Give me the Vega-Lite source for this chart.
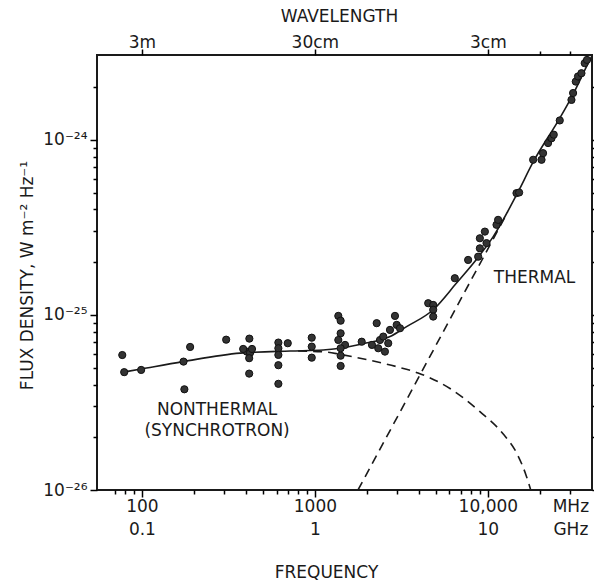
{
  "$schema": "https://vega.github.io/schema/vega-lite/v6.json",
  "width": 495,
  "height": 435,
  "autosize": {"type": "none"},
  "padding": {"left": 97, "top": 55, "right": 2, "bottom": 91},
  "background": "white",
  "config": {
    "view": {"stroke": "#1a1a1a", "strokeWidth": 2},
    "font": "DejaVu Sans",
    "axis": {
      "grid": false,
      "domain": false,
      "labelFont": "DejaVu Sans",
      "titleFont": "DejaVu Sans",
      "labelColor": "#1a1a1a",
      "titleColor": "#1a1a1a",
      "labelFontSize": 17,
      "titleFontSize": 17,
      "titleFontWeight": "normal",
      "labelFlush": false,
      "labelOverlap": false,
      "labelLineHeight": 23
    }
  },
  "datasets": {
    "total": [
      {"freq": 79, "flux": 4.72e-26},
      {"freq": 99, "flux": 4.91e-26},
      {"freq": 173, "flux": 5.41e-26},
      {"freq": 370, "flux": 6.05e-26},
      {"freq": 720, "flux": 6.22e-26},
      {"freq": 1115, "flux": 6.3e-26},
      {"freq": 1400, "flux": 6.45e-26},
      {"freq": 1900, "flux": 6.85e-26},
      {"freq": 2700, "flux": 7.5e-26},
      {"freq": 3390, "flux": 8.57e-26},
      {"freq": 4830, "flux": 1.07e-25},
      {"freq": 6590, "flux": 1.52e-25},
      {"freq": 9000, "flux": 2.2e-25},
      {"freq": 10740, "flux": 2.8e-25},
      {"freq": 14890, "flux": 5.0e-25},
      {"freq": 18190, "flux": 7.4e-25},
      {"freq": 26060, "flux": 1.33e-24},
      {"freq": 30540, "flux": 1.76e-24},
      {"freq": 38800, "flux": 2.85e-24},
      {"freq": 40000, "flux": 3.02e-24}
    ],
    "thermal": [
      {"freq": 1775, "flux": 1.0e-26},
      {"freq": 13000, "flux": 3.85e-25}
    ],
    "nonthermal": [
      {"freq": 800, "flux": 6.22e-26},
      {"freq": 1190, "flux": 6.12e-26},
      {"freq": 1400, "flux": 5.95e-26},
      {"freq": 2000, "flux": 5.55e-26},
      {"freq": 3000, "flux": 5.05e-26},
      {"freq": 3950, "flux": 4.66e-26},
      {"freq": 6040, "flux": 3.8e-26},
      {"freq": 9000, "flux": 2.8e-26},
      {"freq": 12200, "flux": 2.1e-26},
      {"freq": 14700, "flux": 1.62e-26},
      {"freq": 16700, "flux": 1.2e-26},
      {"freq": 17700, "flux": 1.0e-26}
    ],
    "points": [
      {"freq": 77, "flux": 5.9e-26},
      {"freq": 79, "flux": 4.71e-26},
      {"freq": 99, "flux": 4.85e-26},
      {"freq": 174, "flux": 5.41e-26},
      {"freq": 190, "flux": 6.56e-26},
      {"freq": 176, "flux": 3.76e-26},
      {"freq": 307, "flux": 7.22e-26},
      {"freq": 418, "flux": 7.32e-26},
      {"freq": 404, "flux": 6.17e-26},
      {"freq": 385, "flux": 6.39e-26},
      {"freq": 422, "flux": 6.07e-26},
      {"freq": 433, "flux": 6.39e-26},
      {"freq": 417, "flux": 5.66e-26},
      {"freq": 417, "flux": 4.62e-26},
      {"freq": 615, "flux": 6.95e-26},
      {"freq": 697, "flux": 6.89e-26},
      {"freq": 615, "flux": 6.45e-26},
      {"freq": 615, "flux": 5.91e-26},
      {"freq": 615, "flux": 5.16e-26},
      {"freq": 615, "flux": 4.04e-26},
      {"freq": 959, "flux": 7.41e-26},
      {"freq": 959, "flux": 6.59e-26},
      {"freq": 959, "flux": 5.7e-26},
      {"freq": 1366, "flux": 9.87e-26},
      {"freq": 1409, "flux": 9.27e-26},
      {"freq": 1409, "flux": 7.85e-26},
      {"freq": 1366, "flux": 7.19e-26},
      {"freq": 1494, "flux": 6.74e-26},
      {"freq": 1409, "flux": 6.45e-26},
      {"freq": 1409, "flux": 5.85e-26},
      {"freq": 1409, "flux": 5.11e-26},
      {"freq": 1865, "flux": 7.03e-26},
      {"freq": 2277, "flux": 8.97e-26},
      {"freq": 2379, "flux": 7.19e-26},
      {"freq": 2324, "flux": 6.45e-26},
      {"freq": 2485, "flux": 7.52e-26},
      {"freq": 2655, "flux": 6.89e-26},
      {"freq": 2541, "flux": 6.17e-26},
      {"freq": 2717, "flux": 8.21e-26},
      {"freq": 2904, "flux": 9.87e-26},
      {"freq": 2972, "flux": 8.77e-26},
      {"freq": 3105, "flux": 8.39e-26},
      {"freq": 2138, "flux": 6.74e-26},
      {"freq": 4520, "flux": 1.166e-25},
      {"freq": 4831, "flux": 1.14e-25},
      {"freq": 4831, "flux": 1.07e-25},
      {"freq": 4831, "flux": 9.78e-26},
      {"freq": 6442, "flux": 1.62e-25},
      {"freq": 7691, "flux": 2.06e-25},
      {"freq": 8789, "flux": 2.15e-25},
      {"freq": 8990, "flux": 2.4e-25},
      {"freq": 8990, "flux": 2.74e-25},
      {"freq": 9611, "flux": 2.99e-25},
      {"freq": 9821, "flux": 2.57e-25},
      {"freq": 11220, "flux": 3.27e-25},
      {"freq": 11460, "flux": 3.49e-25},
      {"freq": 14640, "flux": 4.96e-25},
      {"freq": 15160, "flux": 5.0e-25},
      {"freq": 18270, "flux": 7.69e-25},
      {"freq": 20430, "flux": 7.69e-25},
      {"freq": 20850, "flux": 8.39e-25},
      {"freq": 22290, "flux": 9.58e-25},
      {"freq": 23330, "flux": 1.02e-24},
      {"freq": 24040, "flux": 1.07e-24},
      {"freq": 26040, "flux": 1.29e-24},
      {"freq": 30430, "flux": 1.69e-24},
      {"freq": 31100, "flux": 1.85e-24},
      {"freq": 32220, "flux": 2.15e-24},
      {"freq": 33200, "flux": 2.3e-24},
      {"freq": 34750, "flux": 2.4e-24},
      {"freq": 36310, "flux": 2.74e-24},
      {"freq": 37430, "flux": 2.86e-24}
    ],
    "labels": [
      {"freq": 272, "flux": 2.68e-26, "label": "NONTHERMAL"},
      {"freq": 272, "flux": 2.04e-26, "label": "(SYNCHROTRON)"},
      {"freq": 18620, "flux": 1.52e-25, "label": "THERMAL"}
    ]
  },
  "resolve": {"axis": {"x": "independent", "y": "independent"}},
  "layer": [
    {
      "data": {"name": "total"},
      "mark": {"type": "line", "interpolate": "monotone", "color": "#1a1a1a", "strokeWidth": 1.6, "clip": true},
      "encoding": {
        "x": {
          "field": "freq", "type": "quantitative",
          "scale": {"type": "log", "domain": [55, 40000], "nice": false},
          "axis": {
            "orient": "bottom",
            "values": [100, 1000, 10000],
            "tickSize": 7,
            "tickColor": "black",
            "tickWidth": 1.5,
            "labelPadding": 14,
            "labelBaseline": "alphabetic",
            "labelExpr": "datum.value < 500 ? ['100', '0.1'] : datum.value < 5000 ? ['1000', '1'] : ['10,000', '10']",
            "title": "FREQUENCY",
            "titleX": 229,
            "titleY": 87,
            "titleBaseline": "alphabetic",
            "titleAlign": "center"
          }
        },
        "y": {
          "field": "flux", "type": "quantitative",
          "scale": {"type": "log", "domain": [1e-26, 3.05e-24], "nice": false},
          "axis": {
            "orient": "left",
            "values": [1e-26, 1e-25, 1e-24],
            "tickSize": 7,
            "tickColor": "black",
            "tickWidth": 1.5,
            "labelPadding": 3,
            "labelBaseline": "middle",
            "labelExpr": "datum.value < 5e-26 ? '10⁻²⁶' : datum.value < 5e-25 ? '10⁻²⁵' : '10⁻²⁴'",
            "title": "FLUX DENSITY, W m⁻² Hz⁻¹",
            "titleX": -65,
            "titleY": 220,
            "titleAngle": -90,
            "titleBaseline": "alphabetic",
            "titleAlign": "center"
          }
        }
      }
    },
    {
      "data": {"name": "thermal"},
      "mark": {"type": "line", "color": "#1a1a1a", "strokeWidth": 1.6, "strokeDash": [9, 6], "clip": true},
      "encoding": {
        "x": {
          "field": "freq", "type": "quantitative",
          "scale": {"type": "log", "domain": [55, 40000], "nice": false},
          "axis": {
            "orient": "bottom",
            "values": [70, 80, 90, 200, 300, 400, 500, 600, 700, 800, 900, 2000, 3000, 4000, 5000, 6000, 7000, 8000, 9000, 20000, 30000],
            "tickSize": 4,
            "tickColor": "black",
            "tickWidth": 1.5,
            "labels": false,
            "title": null
          }
        },
        "y": {
          "field": "flux", "type": "quantitative",
          "scale": {"type": "log", "domain": [1e-26, 3.05e-24], "nice": false},
          "axis": {
            "orient": "left",
            "values": [2e-26, 3e-26, 4e-26, 5e-26, 6e-26, 7e-26, 8e-26, 9e-26, 2e-25, 3e-25, 4e-25, 5e-25, 6e-25, 7e-25, 8e-25, 9e-25, 2e-24],
            "tickSize": 4,
            "tickColor": "black",
            "tickWidth": 1.5,
            "labels": false,
            "title": null
          }
        }
      }
    },
    {
      "data": {"name": "nonthermal"},
      "mark": {"type": "line", "interpolate": "monotone", "color": "#1a1a1a", "strokeWidth": 1.6, "strokeDash": [9, 6], "clip": true},
      "encoding": {
        "x": {
          "field": "freq", "type": "quantitative",
          "scale": {"type": "log", "domain": [55, 40000], "nice": false},
          "axis": {
            "orient": "top",
            "values": [100, 1000, 10000],
            "tickSize": 6,
            "tickColor": "black",
            "tickWidth": 1.5,
            "labelPadding": 2,
            "labelBaseline": "alphabetic",
            "labelExpr": "datum.value < 500 ? '3m' : datum.value < 5000 ? '30cm' : '3cm'",
            "title": "WAVELENGTH",
            "titleX": 242,
            "titleY": -34,
            "titleBaseline": "alphabetic",
            "titleAlign": "center"
          }
        },
        "y": {
          "field": "flux", "type": "quantitative",
          "scale": {"type": "log", "domain": [1e-26, 3.05e-24], "nice": false},
          "axis": {
            "orient": "right",
            "values": [1e-26, 1e-25, 1e-24],
            "tickSize": 6,
            "tickColor": "black",
            "tickWidth": 1.5,
            "labels": false,
            "title": null
          }
        }
      }
    },
    {
      "data": {"name": "points"},
      "mark": {"type": "point", "filled": true, "shape": "circle", "size": 52, "fill": "#333333", "stroke": "#111111", "strokeWidth": 1, "opacity": 1, "clip": true},
      "encoding": {
        "x": {
          "field": "freq", "type": "quantitative",
          "scale": {"type": "log", "domain": [55, 40000], "nice": false},
          "axis": {
            "orient": "top",
            "values": [20000, 30000],
            "tickSize": 4,
            "tickColor": "black",
            "tickWidth": 1.5,
            "labels": false,
            "title": null
          }
        },
        "y": {
          "field": "flux", "type": "quantitative",
          "scale": {"type": "log", "domain": [1e-26, 3.05e-24], "nice": false},
          "axis": {
            "orient": "right",
            "values": [2e-26, 3e-26, 4e-26, 5e-26, 6e-26, 7e-26, 8e-26, 9e-26, 2e-25, 3e-25, 4e-25, 5e-25, 6e-25, 7e-25, 8e-25, 9e-25, 2e-24],
            "tickSize": 4,
            "tickColor": "black",
            "tickWidth": 1.5,
            "labels": false,
            "title": null
          }
        }
      }
    },
    {
      "data": {"name": "labels"},
      "mark": {"type": "text", "font": "DejaVu Sans", "fontSize": 17, "align": "center", "baseline": "alphabetic", "color": "#1a1a1a"},
      "encoding": {
        "x": {
          "field": "freq", "type": "quantitative",
          "scale": {"type": "log", "domain": [55, 40000], "nice": false},
          "axis": {
            "orient": "bottom",
            "values": [30000],
            "ticks": false,
            "labelPadding": 21,
            "labelBaseline": "alphabetic",
            "labelExpr": "['MHz', 'GHz']",
            "title": null
          }
        },
        "y": {
          "field": "flux", "type": "quantitative",
          "scale": {"type": "log", "domain": [1e-26, 3.05e-24], "nice": false},
          "axis": null
        },
        "text": {"field": "label", "type": "nominal"}
      }
    }
  ]
}
